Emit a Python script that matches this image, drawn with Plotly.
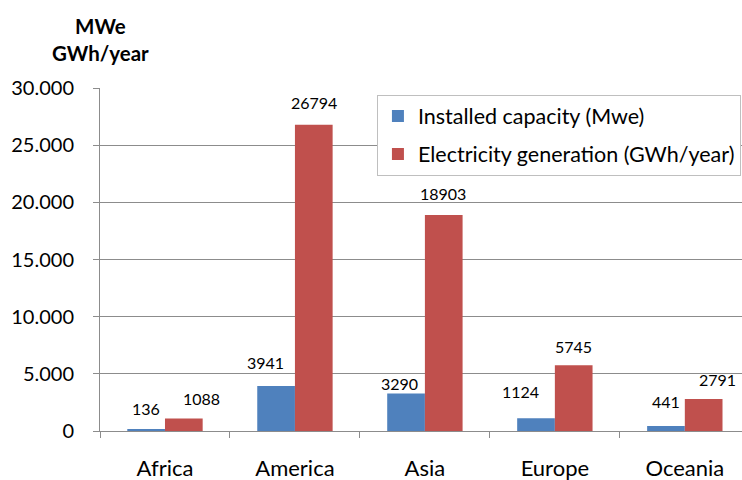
import plotly.graph_objects as go

regions = ["Africa", "America", "Asia", "Europe", "Oceania"]
capacity_mwe = [136, 3941, 3290, 1124, 441]
generation_gwh = [1088, 26794, 18903, 5745, 2791]
y_ticks = [0, 5000, 10000, 15000, 20000, 25000, 30000]
series_names = ["Installed capacity (Mwe)", "Electricity generation (GWh/year)"]

# label placement tweaks (pixels), as in the original chart
cap_label_dx = [0, -11, -7, -16, 0]
cap_label_dy = [21, 23, 10, 27, 24]
gen_label_dx = [18, 0, -1, 0, 14]
gen_label_dy = [20, 22, 21, 19, 20]

BLUE = "#4F81BD"
RED = "#C0504D"
GRID = "#8C8C8C"
FONT = "Lato"
HALF_BAR = 18.8

fig = go.Figure()
fig.add_trace(go.Bar(x=regions, y=capacity_mwe, name=series_names[0],
                     marker=dict(color=BLUE, line=dict(width=0)),
                     legendgroup="a"))
fig.add_trace(go.Bar(x=regions, y=generation_gwh, name=series_names[1],
                     marker=dict(color=RED, line=dict(width=0)),
                     legendgroup="b"))

annotations = []
for vals, side, dxs, dys in ((capacity_mwe, -1, cap_label_dx, cap_label_dy),
                             (generation_gwh, 1, gen_label_dx, gen_label_dy)):
    for r, v, dx, dy in zip(regions, vals, dxs, dys):
        annotations.append(dict(x=r, y=v, xref="x", yref="y", text=str(v),
                                showarrow=False, xshift=side * HALF_BAR + dx,
                                yshift=dy, yanchor="middle", xanchor="center",
                                font=dict(family=FONT, size=16, color="#000")))

annotations.append(dict(xref="paper", yref="paper", x=0.0, y=1.0, yshift=49,
                        text="<b>MWe</b><br><b>GWh/year</b>", showarrow=False,
                        xanchor="center", yanchor="middle", align="center",
                        font=dict(family=FONT, size=20.5, color="#000")))

fig.update_layout(
    width=742, height=480,
    margin=dict(l=100, r=0, t=88, b=49, autoexpand=False),
    paper_bgcolor="white", plot_bgcolor="white",
    separators=",.",
    barmode="group", bargap=0.42, bargroupgap=0,
    font=dict(family=FONT, size=22, color="#000"),
    showlegend=True,
    legend=dict(xref="container", yref="container", x=0.508, y=0.803,
                xanchor="left", yanchor="top",
                bordercolor="#BFBFBF", borderwidth=1, bgcolor="white",
                font=dict(family=FONT, size=21.5, color="#000"),
                traceorder="grouped", tracegroupgap=7,
                itemwidth=30),
    annotations=annotations,
    xaxis=dict(type="category", range=[-0.5, 4.44], tickson="boundaries",
               ticks="outside", ticklen=6, tickcolor=GRID,
               showline=True, linecolor=GRID, linewidth=1,
               showgrid=False, ticklabelstandoff=18,
               tickfont=dict(family=FONT, size=22)),
    yaxis=dict(range=[0, 30000], tickvals=y_ticks, tickformat=",d",
               ticks="outside", ticklen=6, tickcolor=GRID,
               showline=True, linecolor=GRID, linewidth=1,
               showgrid=True, gridcolor=GRID, gridwidth=1,
               zeroline=False, ticklabelstandoff=15,
               tickfont=dict(family=FONT, size=20)),
)

fig.write_html("out.html", config={"displayModeBar": False},
               post_script="document.body.style.margin='0';document.body.style.overflow='hidden';")
